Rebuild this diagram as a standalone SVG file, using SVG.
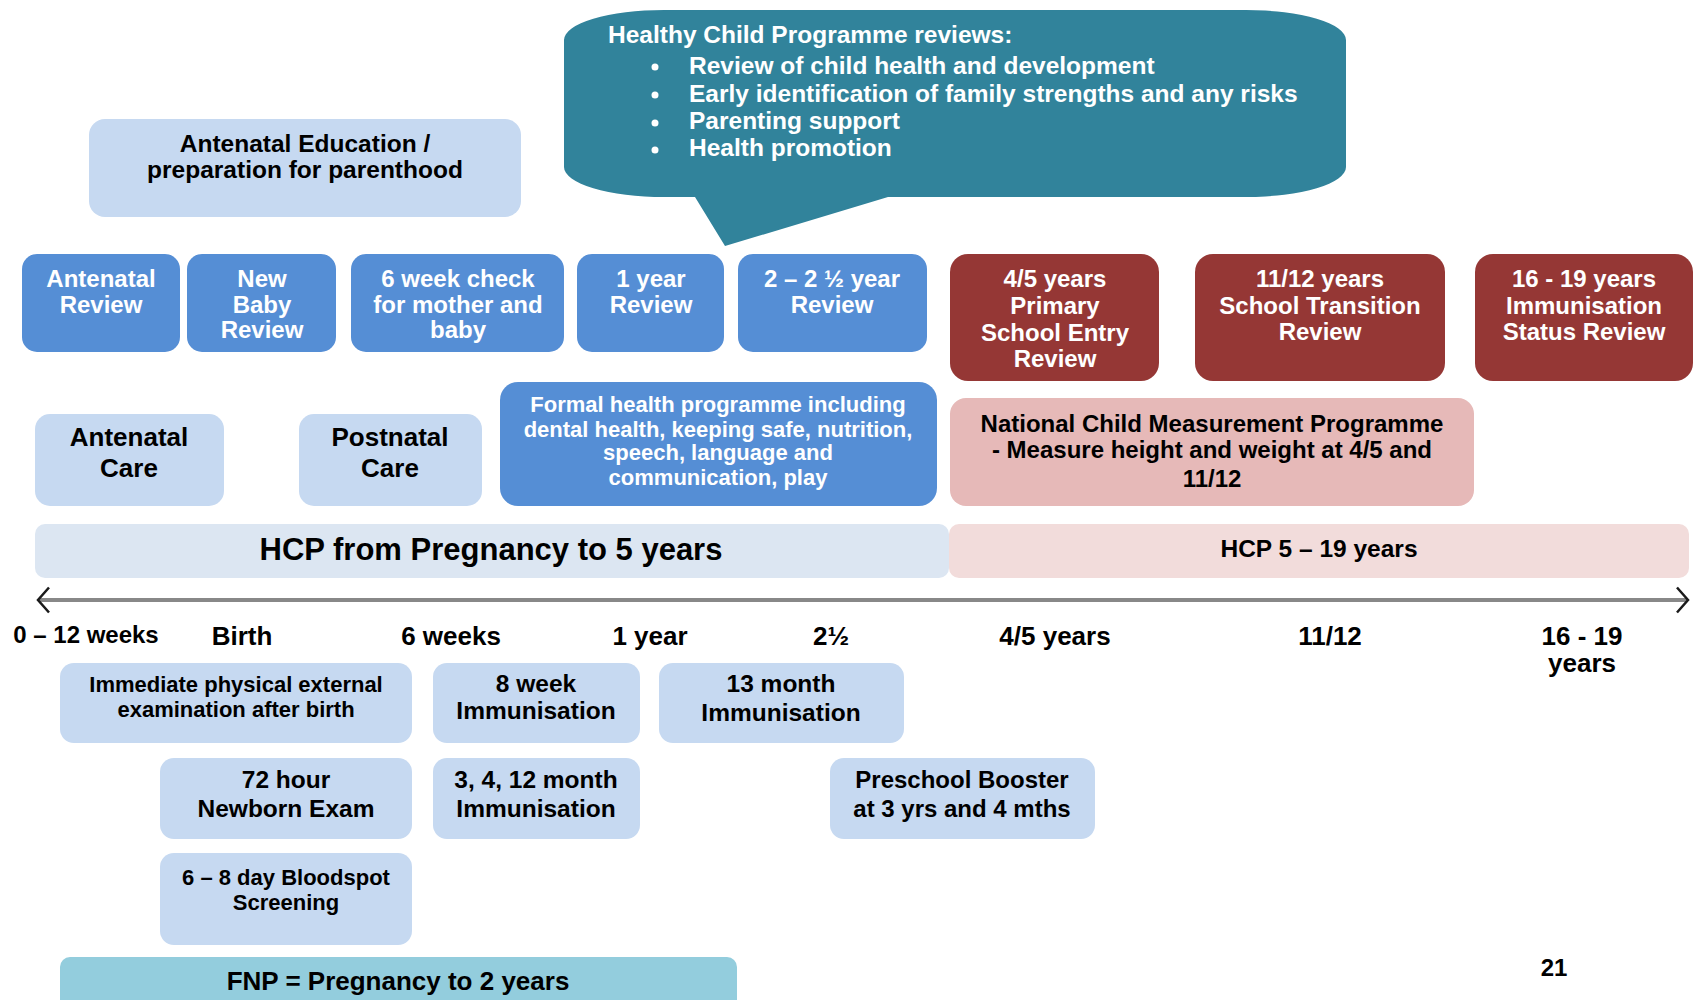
<svg xmlns="http://www.w3.org/2000/svg" width="1696" height="1000" viewBox="0 0 1696 1000">
<defs>
<style>
.lb{fill:#c6d9f1}
.mb{fill:#558ed5}
.rd{fill:#953735}
.pk{fill:#e6b9b8}
text{font-family:"Liberation Sans",Arial,sans-serif;font-weight:bold;text-anchor:middle}
.w{fill:#ffffff}
.k{fill:#000000}
.s24{font-size:24px}
.s22{font-size:22px}
.s26{font-size:26px}
.s245{font-size:24.5px}
</style>
<marker id="chev" viewBox="-14 -15 16 30" refX="0" refY="0" markerWidth="16" markerHeight="30" markerUnits="userSpaceOnUse" orient="auto-start-reverse">
<path d="M-11,-12.5 L0,0 L-11,12.5" fill="none" stroke="#1a1a1a" stroke-width="2.5"/>
</marker>
</defs>
<rect width="1696" height="1000" fill="#ffffff"/>

<g id="bubble">
<path d="M664,10 H1246 A100 30 0 0 1 1346,40 V167 A100 30 0 0 1 1246,197 H888 L725,246 L695,197 H664 A100 30 0 0 1 564,167 V40 A100 30 0 0 1 664,10 Z" fill="#31839b"/>
<text class="w s245" x="608" y="43" style="text-anchor:start">Healthy Child Programme reviews:</text>
<circle cx="655" cy="67" r="3.5" fill="#fff"/>
<circle cx="655" cy="95" r="3.5" fill="#fff"/>
<circle cx="655" cy="123" r="3.5" fill="#fff"/>
<circle cx="655" cy="150" r="3.5" fill="#fff"/>
<text class="w s245" x="689" y="74" style="text-anchor:start">Review of child health and development</text>
<text class="w s245" x="689" y="102" style="text-anchor:start">Early identification of family strengths and any risks</text>
<text class="w s245" x="689" y="129" style="text-anchor:start">Parenting support</text>
<text class="w s245" x="689" y="156" style="text-anchor:start">Health promotion</text>
</g>

<g id="antenatal-education">
<rect class="lb" x="89" y="119" width="432" height="98" rx="16"/>
<text class="k s245" x="305" y="152">Antenatal Education /</text>
<text class="k s245" x="305" y="178">preparation for parenthood</text>
</g>

<g id="antenatal-review">
<rect class="mb" x="22" y="254" width="158" height="98" rx="15"/>
<text class="w s24" x="101" y="287">Antenatal</text>
<text class="w s24" x="101" y="313">Review</text>
</g>
<g id="new-baby-review">
<rect class="mb" x="187" y="254" width="149" height="98" rx="15"/>
<text class="w s24" x="262" y="287">New</text>
<text class="w s24" x="262" y="313">Baby</text>
<text class="w s24" x="262" y="338">Review</text>
</g>
<g id="six-week-check">
<rect class="mb" x="351" y="254" width="213" height="98" rx="15"/>
<text class="w s24" x="458" y="287">6 week check</text>
<text class="w s24" x="458" y="313">for mother and</text>
<text class="w s24" x="458" y="338">baby</text>
</g>
<g id="one-year-review">
<rect class="mb" x="577" y="254" width="147" height="98" rx="15"/>
<text class="w s24" x="651" y="287">1 year</text>
<text class="w s24" x="651" y="313">Review</text>
</g>
<g id="two-year-review">
<rect class="mb" x="738" y="254" width="189" height="98" rx="15"/>
<text class="w s24" x="832" y="287">2 – 2 ½ year</text>
<text class="w s24" x="832" y="313">Review</text>
</g>

<g id="primary-school-entry">
<rect class="rd" x="950" y="254" width="209" height="127" rx="18"/>
<text class="w s24" x="1055" y="287">4/5 years</text>
<text class="w s24" x="1055" y="314">Primary</text>
<text class="w s24" x="1055" y="341">School Entry</text>
<text class="w s24" x="1055" y="367">Review</text>
</g>
<g id="school-transition">
<rect class="rd" x="1195" y="254" width="250" height="127" rx="18"/>
<text class="w s24" x="1320" y="287">11/12 years</text>
<text class="w s24" x="1320" y="314">School Transition</text>
<text class="w s24" x="1320" y="340">Review</text>
</g>
<g id="immunisation-status">
<rect class="rd" x="1475" y="254" width="218" height="127" rx="18"/>
<text class="w s24" x="1584" y="287">16 - 19 years</text>
<text class="w s24" x="1584" y="314">Immunisation</text>
<text class="w s24" x="1584" y="340">Status Review</text>
</g>

<g id="antenatal-care">
<rect class="lb" x="35" y="414" width="189" height="92" rx="15"/>
<text class="k s26" x="129" y="446">Antenatal</text>
<text class="k s26" x="129" y="477">Care</text>
</g>
<g id="postnatal-care">
<rect class="lb" x="299" y="414" width="183" height="92" rx="15"/>
<text class="k s26" x="390" y="446">Postnatal</text>
<text class="k s26" x="390" y="477">Care</text>
</g>
<g id="formal-health">
<rect class="mb" x="500" y="382" width="437" height="124" rx="18"/>
<text class="w s22" x="718" y="412">Formal health programme including</text>
<text class="w s22" x="718" y="437">dental health, keeping safe, nutrition,</text>
<text class="w s22" x="718" y="460">speech, language and</text>
<text class="w s22" x="718" y="485">communication, play</text>
</g>
<g id="ncmp">
<rect class="pk" x="950" y="398" width="524" height="108" rx="16"/>
<text class="k s24" x="1212" y="432">National Child Measurement Programme</text>
<text class="k s24" x="1212" y="458">- Measure height and weight at 4/5 and</text>
<text class="k s24" x="1212" y="487">11/12</text>
</g>

<g id="hcp-0-5">
<rect x="35" y="524" width="914" height="54" rx="10" fill="#dce6f2"/>
<text class="k" x="491" y="560" style="font-size:31px">HCP from Pregnancy to 5 years</text>
</g>
<g id="hcp-5-19">
<rect x="949" y="524" width="740" height="54" rx="10" fill="#f2dcdb"/>
<text class="k s245" x="1319" y="557">HCP 5 – 19 years</text>
</g>

<g id="connectors">
<line x1="38" y1="600" x2="1688" y2="600" stroke="#888888" stroke-width="4" marker-start="url(#chev)" marker-end="url(#chev)"/>
</g>

<g id="axis-labels">
<text class="k s24" x="86" y="643">0 – 12 weeks</text>
<text class="k s26" x="242" y="645">Birth</text>
<text class="k s26" x="451" y="645">6 weeks</text>
<text class="k s26" x="650" y="645">1 year</text>
<text class="k s26" x="831" y="645">2½</text>
<text class="k s26" x="1055" y="645">4/5 years</text>
<text class="k s26" x="1330" y="645">11/12</text>
<text class="k s26" x="1582" y="645">16 - 19</text>
<text class="k s26" x="1582" y="672">years</text>
</g>

<g id="immediate-exam">
<rect class="lb" x="60" y="663" width="352" height="80" rx="14"/>
<text class="k s22" x="236" y="692">Immediate physical external</text>
<text class="k s22" x="236" y="717">examination after birth</text>
</g>
<g id="eight-week-imm">
<rect class="lb" x="433" y="663" width="207" height="80" rx="14"/>
<text class="k s245" x="536" y="692">8 week</text>
<text class="k s245" x="536" y="719">Immunisation</text>
</g>
<g id="thirteen-month-imm">
<rect class="lb" x="659" y="663" width="245" height="80" rx="14"/>
<text class="k s245" x="781" y="692">13 month</text>
<text class="k s245" x="781" y="721">Immunisation</text>
</g>
<g id="newborn-exam">
<rect class="lb" x="160" y="758" width="252" height="81" rx="14"/>
<text class="k s245" x="286" y="788">72 hour</text>
<text class="k s245" x="286" y="817">Newborn Exam</text>
</g>
<g id="three-four-twelve-imm">
<rect class="lb" x="433" y="758" width="207" height="81" rx="14"/>
<text class="k s245" x="536" y="788">3, 4, 12 month</text>
<text class="k s245" x="536" y="817">Immunisation</text>
</g>
<g id="preschool-booster">
<rect class="lb" x="830" y="758" width="265" height="81" rx="14"/>
<text class="k s24" x="962" y="788">Preschool Booster</text>
<text class="k s24" x="962" y="817">at 3 yrs and 4 mths</text>
</g>
<g id="bloodspot">
<rect class="lb" x="160" y="853" width="252" height="92" rx="14"/>
<text class="k s22" x="286" y="885">6 – 8 day Bloodspot</text>
<text class="k s22" x="286" y="910">Screening</text>
</g>
<g id="fnp">
<rect x="60" y="957" width="677" height="60" rx="10" fill="#93cddd"/>
<text class="k s26" x="398" y="990">FNP = Pregnancy to 2 years</text>
</g>

<text class="k s24" x="1554" y="976">21</text>
</svg>
